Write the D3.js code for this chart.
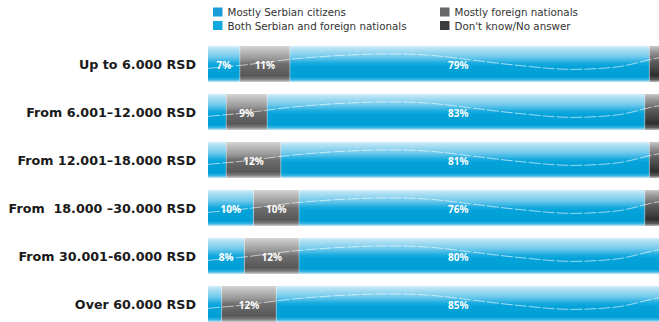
<!DOCTYPE html>
<html>
<head>
<meta charset="utf-8">
<script src="https://cdn.jsdelivr.net/npm/d3@7/dist/d3.min.js"></script>
<style>
  html, body { margin: 0; padding: 0; background: #fff; }
  svg { display: block; }
</style>
</head>
<body>
<div id="chart"></div>
<script>
// Income brackets (rows, top to bottom)
const categories = [
  "Up to 6.000 RSD",
  "From 6.001\u201312.000 RSD",
  "From 12.001\u201318.000 RSD",
  "From  18.000 \u201330.000 RSD",
  "From 30.001-60.000 RSD",
  "Over 60.000 RSD"
];

// Series, in stacking order left to right (percent of respondents)
const seriesNames = [
  "Mostly Serbian citizens",
  "Mostly foreign nationals",
  "Both Serbian and foreign nationals",
  "Don't know/No answer"
];
const mostlySerbian   = [7, 4, 4, 10, 8, 3];
const mostlyForeign   = [11, 9, 12, 10, 12, 12];
const bothNationals   = [79, 83, 81, 76, 80, 85];
const dontKnow        = [3, 4, 3, 4, 0, 0];

// Which segments carry a printed value
const labelled = [
  [true, false, false, true, true, false],
  [true, true, true, true, true, true],
  [true, true, true, true, true, true],
  [false, false, false, false, false, false]
];

// Legend layout order (two columns)
const legendOrder = [
  "Mostly Serbian citizens",
  "Both Serbian and foreign nationals",
  "Mostly foreign nationals",
  "Don't know/No answer"
];

const W = 659, H = 322;
const svg = d3.select("#chart").append("svg")
  .attr("width", W).attr("height", H)
  .attr("viewBox", `0 0 ${W} ${H}`);

const rows = categories.map((c, i) => ({
  category: c,
  "Mostly Serbian citizens": mostlySerbian[i],
  "Mostly foreign nationals": mostlyForeign[i],
  "Both Serbian and foreign nationals": bothNationals[i],
  "Don't know/No answer": dontKnow[i]
}));

const stack = d3.stack().keys(seriesNames);
const stacked = stack(rows);

const x = d3.scaleLinear().domain([0, 100]).range([208, 663]);
const y = d3.scaleBand().domain(categories).range([40, 328])
  .paddingInner(0.25).paddingOuter(0.125);

// Gradients giving the bars their glossy look
const defs = svg.append("defs");
function gradient(id, stops) {
  const g = defs.append("linearGradient").attr("id", id)
    .attr("x1", 0).attr("y1", 0).attr("x2", 0).attr("y2", 1);
  stops.forEach(([o, c]) => g.append("stop").attr("offset", o).attr("stop-color", c));
}
gradient("gBlue", [
  [0, "#d4eef9"], [0.08, "#b4e1f4"], [0.3, "#6fc9ec"], [0.48, "#18aadf"],
  [0.56, "#03a3da"], [0.86, "#00a0d6"], [0.93, "#36b4e2"], [1, "#c4e7f5"]
]);
gradient("gGray", [
  [0, "#d6d6d6"], [0.1, "#c2c2c2"], [0.35, "#989898"], [0.5, "#6e6e6e"],
  [0.82, "#575757"], [0.92, "#7a7a7a"], [1, "#cfcfcf"]
]);
gradient("gDark", [
  [0, "#c8c8c8"], [0.15, "#9a9a9a"], [0.45, "#5a5a5a"],
  [0.82, "#2f2f2f"], [0.93, "#5a5a5a"], [1, "#bdbdbd"]
]);

const fills = {
  "Mostly Serbian citizens": "url(#gBlue)",
  "Mostly foreign nationals": "url(#gGray)",
  "Both Serbian and foreign nationals": "url(#gBlue)",
  "Don't know/No answer": "url(#gDark)"
};
const swatch = {
  "Mostly Serbian citizens": "#1a9cd8",
  "Both Serbian and foreign nationals": "#10a9dd",
  "Mostly foreign nationals": "#686868",
  "Don't know/No answer": "#3c3c3c"
};

// Stacked segments
const layers = svg.append("g").selectAll("g").data(stacked).join("g");
layers.selectAll("rect").data(d => d.map(s => ({ s, key: d.key })))
  .join("rect")
  .attr("x", d => x(d.s[0]))
  .attr("y", d => y(d.s.data.category))
  .attr("width", d => Math.max(0, x(d.s[1]) - x(d.s[0])))
  .attr("height", y.bandwidth())
  .attr("fill", d => fills[d.key]);

// Thin light seams between segments
layers.filter((d, i) => i > 0).selectAll("line")
  .data(d => d.filter(s => s[1] > s[0]))
  .join("line")
  .attr("x1", s => x(s[0])).attr("x2", s => x(s[0]))
  .attr("y1", s => y(s.data.category)).attr("y2", s => y(s.data.category) + y.bandwidth())
  .attr("stroke", "#ffffff").attr("stroke-opacity", 0.45).attr("stroke-width", 0.8);

// Sheen line sweeping across each bar (x in axis units, y as share of bar height)
const sheen = [[0, 0.62], [7, 0.54], [18, 0.37], [31, 0.25], [42, 0.22], [50, 0.27],
               [58, 0.39], [69, 0.55], [80, 0.65], [90, 0.58], [97, 0.38], [100, 0.3]];
const sheenLine = d3.line().curve(d3.curveMonotoneX);
svg.append("g").selectAll("path").data(categories).join("path")
  .attr("d", c => sheenLine(sheen.map(([u, v]) => [x(u), y(c) + v * y.bandwidth()])))
  .attr("fill", "none")
  .attr("stroke", "#ffffff")
  .attr("stroke-opacity", 0.6)
  .attr("stroke-width", 1)
  .attr("stroke-dasharray", "12 2");

// Value labels; the wide middle segment is labelled on a common column
const wideColumn = 55;
const labelData = [];
stacked.forEach((layer, li) => {
  layer.forEach((s, ri) => {
    if (!labelled[li][ri]) return;
    const cx = layer.key === "Both Serbian and foreign nationals"
      ? x(wideColumn) : (x(s[0]) + x(s[1])) / 2;
    labelData.push({ cx, cy: y(s.data.category) + y.bandwidth() / 2 + 1, v: s[1] - s[0] });
  });
});
svg.append("g").selectAll("text").data(labelData).join("text")
  .attr("x", d => d.cx).attr("y", d => d.cy)
  .attr("text-anchor", "middle")
  .attr("dominant-baseline", "central")
  .attr("font-family", "'Noto Sans', sans-serif")
  .attr("font-weight", 700)
  .attr("font-size", 10)
  .attr("fill", "#ffffff")
  .text(d => d.v + "%");

// Category axis labels
const yAxis = d3.axisLeft(y).tickSize(0).tickPadding(0);
const ga = svg.append("g").attr("transform", "translate(196,0)").call(yAxis);
ga.select(".domain").remove();
ga.selectAll("text")
  .attr("font-family", "'DejaVu Sans', sans-serif")
  .attr("font-weight", 700)
  .attr("font-size", 12.7)
  .attr("fill", "#1a1a1a")
  .attr("dy", "0.36em")
  .style("white-space", "pre");

// Legend
const legendPos = [[213, 7.5], [213, 21], [440, 7.5], [440, 21]];
const lg = svg.append("g").selectAll("g").data(legendOrder).join("g")
  .attr("transform", (d, i) => `translate(${legendPos[i][0]},${legendPos[i][1]})`);
lg.append("rect").attr("width", 9.5).attr("height", 9).attr("fill", d => swatch[d]);
lg.append("text")
  .attr("x", 14.5).attr("y", 4.8)
  .attr("dominant-baseline", "central")
  .attr("font-family", "'DejaVu Sans', sans-serif")
  .attr("font-size", 10.3)
  .attr("fill", "#333")
  .text(d => d);
</script>
</body>
</html>
